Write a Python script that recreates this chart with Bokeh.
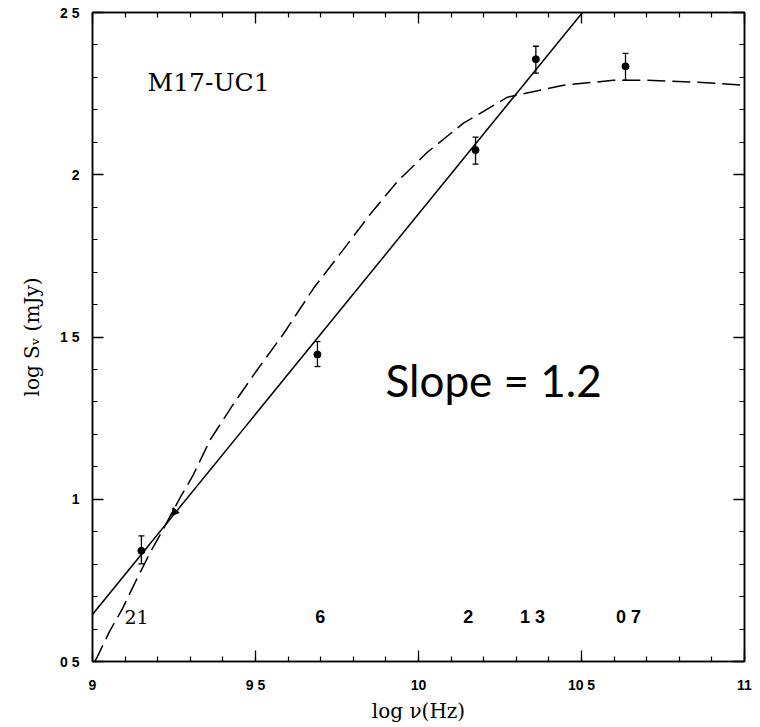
import numpy as np
from bokeh.plotting import figure
from bokeh.models import LinearAxis, FixedTicker, Range1d, ColumnDataSource
from bokeh.core.properties import value
from bokeh.embed import file_html
from bokeh.resources import INLINE

# ---- data ----
obs_x = [9.15, 9.69, 10.175, 10.36, 10.635]
obs_y = [0.841, 1.446, 2.076, 2.356, 2.334]
obs_lo = [0.801, 1.409, 2.033, 2.313, 2.291]
obs_hi = [0.887, 1.486, 2.116, 2.396, 2.374]

lim_x = [9.252]
lim_y = [0.961]

fit_x = [9.0, 10.503]
fit_y = [0.645, 2.5]

model_x = [9.007, 9.015, 9.052, 9.092, 9.132, 9.178, 9.209, 9.27, 9.307, 9.362,
           9.43, 9.506, 9.586, 9.678, 9.77, 9.853, 9.936, 10.028, 10.138, 10.273,
           10.445, 10.598, 10.70, 10.856, 11.0]
model_y = [0.50, 0.515, 0.592, 0.663, 0.746, 0.838, 0.893, 1.007, 1.071, 1.185,
           1.29, 1.40, 1.51, 1.65, 1.77, 1.88, 1.98, 2.07, 2.159, 2.239,
           2.276, 2.291, 2.291, 2.285, 2.276]

band_x = [9.135, 9.699, 10.153, 10.35, 10.644]
band_y = [0.638, 0.638, 0.638, 0.638, 0.638]
band_labels = ["21", "6", "2", "1 3", "0 7"]

x_ticks = [9, 9.5, 10, 10.5, 11]
x_tick_labels = ["9", "9 5", "10", "10 5", "11"]
y_ticks = [0.5, 1, 1.5, 2, 2.5]
y_tick_labels = ["0 5", "1", "1 5", "2", "2 5"]

source_label = "M17-UC1"
slope_label = "Slope = 1.2"

# ---- figure ----
p = figure(width=752, height=725, x_range=Range1d(9, 11), y_range=Range1d(0.5, 2.5),
           output_backend="svg", toolbar_location=None,
           min_border_left=92, min_border_right=8, min_border_top=12, min_border_bottom=62)
p.grid.visible = False
p.outline_line_color = "black"
p.outline_line_width = 1.5
p.background_fill_color = "white"
p.border_fill_color = "white"

x_minor = [round(v, 2) for v in np.arange(9.0, 11.001, 0.1)]
y_minor = [round(v, 2) for v in np.arange(0.5, 2.501, 0.1)]
xt = FixedTicker(ticks=x_ticks, minor_ticks=x_minor)
yt = FixedTicker(ticks=y_ticks, minor_ticks=y_minor)


def style(ax, ticker, labels):
    ax.ticker = ticker
    ax.major_tick_in = 11
    ax.major_tick_out = 0
    ax.minor_tick_in = 5
    ax.minor_tick_out = 0
    ax.axis_line_color = "black"
    ax.axis_line_width = 1.5
    ax.major_tick_line_color = "black"
    ax.minor_tick_line_color = "black"
    ax.major_tick_line_width = 1.3
    ax.minor_tick_line_width = 1.2
    ax.major_label_overrides = labels
    ax.major_label_text_font = "Liberation Sans"
    ax.major_label_text_font_style = "bold"
    ax.major_label_text_font_size = "14px"
    ax.major_label_text_color = "black"


style(p.xaxis[0], xt, dict(zip(x_ticks, x_tick_labels)))
style(p.yaxis[0], yt, dict(zip(y_ticks, y_tick_labels)))
p.xaxis[0].major_label_standoff = 15
p.yaxis[0].major_label_standoff = 13
p.xaxis[0].axis_label = "log ν(Hz)"
p.yaxis[0].axis_label = "log Sᵥ (mJy)"
for ax in (p.xaxis[0], p.yaxis[0]):
    ax.axis_label_text_font = "DejaVu Serif"
    ax.axis_label_text_font_style = "normal"
    ax.axis_label_text_font_size = "20px"
    ax.axis_label_text_color = "black"
p.xaxis[0].axis_label_standoff = 3
p.yaxis[0].axis_label_standoff = 13

top = LinearAxis()
right = LinearAxis()
style(top, xt, {t: "" for t in x_ticks})
style(right, yt, {t: "" for t in y_ticks})
top.major_label_standoff = 0
right.major_label_standoff = 0
p.add_layout(top, "above")
p.add_layout(right, "right")

# model (dashed) curve
p.line(model_x, model_y, line_color="black", line_width=1.5, line_dash="18 7")
# power-law fit
p.line(fit_x, fit_y, line_color="black", line_width=1.5)

# error bars
src = ColumnDataSource(dict(x=obs_x, y=obs_y, lo=obs_lo, hi=obs_hi))
p.segment(x0="x", y0="lo", x1="x", y1="hi", source=src, line_color="black", line_width=1.3)
p.scatter(x="x", y="lo", source=src, marker="dash", size=6, line_color="black", line_width=1.3)
p.scatter(x="x", y="hi", source=src, marker="dash", size=6, line_color="black", line_width=1.3)
p.scatter(x="x", y="y", source=src, marker="circle", size=7, fill_color="black", line_color="black")

# limit arrow
p.scatter(lim_x, lim_y, marker="triangle", size=8, angle=2.46, fill_color="black", line_color="black")

# wavelength labels
p.text([band_x[0]], [band_y[0]], text=[band_labels[0]], text_font=value("DejaVu Serif"),
       text_font_size="19px", text_align="center", text_baseline="middle", text_color="black")
p.text(band_x[1:], band_y[1:], text=band_labels[1:], text_font=value("Liberation Sans"),
       text_font_style="bold", text_font_size="18px", text_align="center",
       text_baseline="middle", text_color="black")

# annotations
p.text([9.169], [2.285], text=[source_label], text_font=value("DejaVu Serif"),
       text_font_size="25px", text_align="left", text_baseline="middle", text_color="black")
p.text([9.899], [1.369], text=[slope_label], text_font=value("Lato"),
       text_font_size="44px", text_align="left", text_baseline="alphabetic", text_color="black")

open("out.html", "w").write(file_html(p, INLINE))
